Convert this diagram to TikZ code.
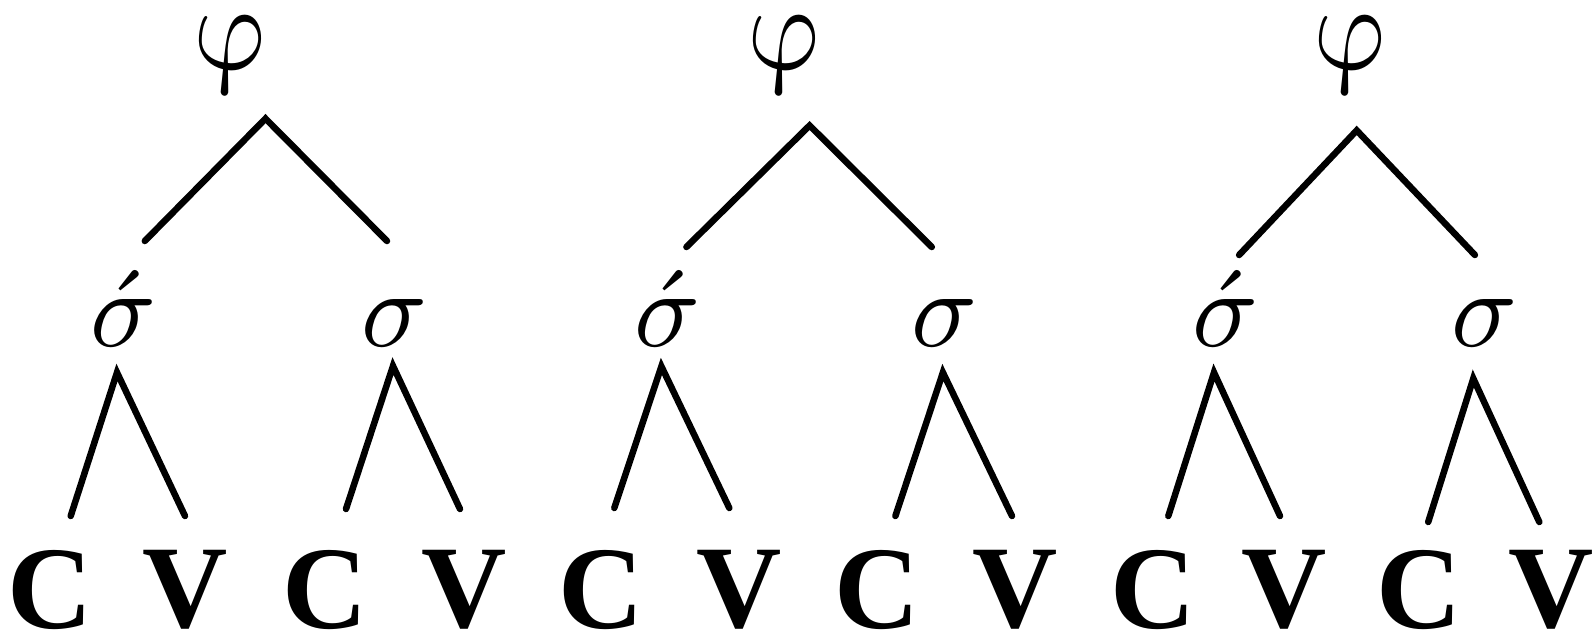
\documentclass[tikz,border=0pt]{standalone}
\usepackage{fontspec}
\newfontfamily\cvfont{Liberation Serif Bold}
\tikzset{
  branch/.style={line width=6.5pt, line cap=round, line join=miter},
  seg/.style={font=\cvfont\fontsize{118}{118}\selectfont, inner sep=0pt, anchor=center},
  syl/.style={inner sep=0pt, anchor=base, scale=10.9},
  foot/.style={inner sep=0pt, anchor=center, yscale=12.3, xscale=11.2, xslant=-0.2},
}
\begin{document}
\begin{tikzpicture}[x=1pt,y=-1pt]
\useasboundingbox (0,0) rectangle (1595,635);
% ---------- tree 1
\node[foot] (f1) at (232.5,54.5) {$\varphi$};
\node[syl] (s1a) at (124,346) {$\acute{\sigma}$};
\node[syl] (s1b) at (395,346) {$\sigma$};
\node[seg] (c1a) at (50,590) {C};
\node[seg] (v1a) at (185.5,590) {V};
\node[seg] (c1b) at (325,590) {C};
\node[seg] (v1b) at (464.5,590) {V};
\coordinate (a1) at (265.5,118.6);
\coordinate (a1l) at (144.8,241);
\coordinate (a1r) at (387,241);
\coordinate (b1) at (117,372.5);
\coordinate (b1l) at (70.7,516);
\coordinate (b1r) at (185,516);
\coordinate (d1) at (393,366);
\coordinate (d1l) at (346,509);
\coordinate (d1r) at (460,509);
\draw[branch] (a1l) -- (a1) -- (a1r);
\draw[branch] (b1l) -- (b1) -- (b1r);
\draw[branch] (d1l) -- (d1) -- (d1r);
% ---------- tree 2
\node[foot] (f2) at (786.5,54.5) {$\varphi$};
\node[syl] (s2a) at (667.7,346) {$\acute{\sigma}$};
\node[syl] (s2b) at (945,346) {$\sigma$};
\node[seg] (c2a) at (601,590) {C};
\node[seg] (v2a) at (739.5,590) {V};
\node[seg] (c2b) at (877.4,590) {C};
\node[seg] (v2b) at (1015.5,590) {V};
\coordinate (a2) at (809.6,125.5);
\coordinate (a2l) at (686.4,247);
\coordinate (a2r) at (931.8,247);
\coordinate (b2) at (661.4,366.4);
\coordinate (b2l) at (614.3,508);
\coordinate (b2r) at (729.3,508);
\coordinate (d2) at (942.9,372.5);
\coordinate (d2l) at (895.4,516);
\coordinate (d2r) at (1012,516);
\draw[branch] (a2l) -- (a2) -- (a2r);
\draw[branch] (b2l) -- (b2) -- (b2r);
\draw[branch] (d2l) -- (d2) -- (d2r);
% ---------- tree 3
\node[foot] (f3) at (1352,54.5) {$\varphi$};
\node[syl] (s3a) at (1226,346) {$\acute{\sigma}$};
\node[syl] (s3b) at (1485,346) {$\sigma$};
\node[seg] (c3a) at (1153.5,590) {C};
\node[seg] (v3a) at (1284,590) {V};
\node[seg] (c3b) at (1419.4,590) {C};
\node[seg] (v3b) at (1551,590) {V};
\coordinate (a3) at (1356.7,130.4);
\coordinate (a3l) at (1239.1,255);
\coordinate (a3r) at (1474.9,255);
\coordinate (b3) at (1214,372.5);
\coordinate (b3l) at (1168.3,516);
\coordinate (b3r) at (1280,516);
\coordinate (d3) at (1473.3,378.5);
\coordinate (d3l) at (1428.2,522);
\coordinate (d3r) at (1539.3,522);
\draw[branch] (a3l) -- (a3) -- (a3r);
\draw[branch] (b3l) -- (b3) -- (b3r);
\draw[branch] (d3l) -- (d3) -- (d3r);
\end{tikzpicture}
\end{document}
